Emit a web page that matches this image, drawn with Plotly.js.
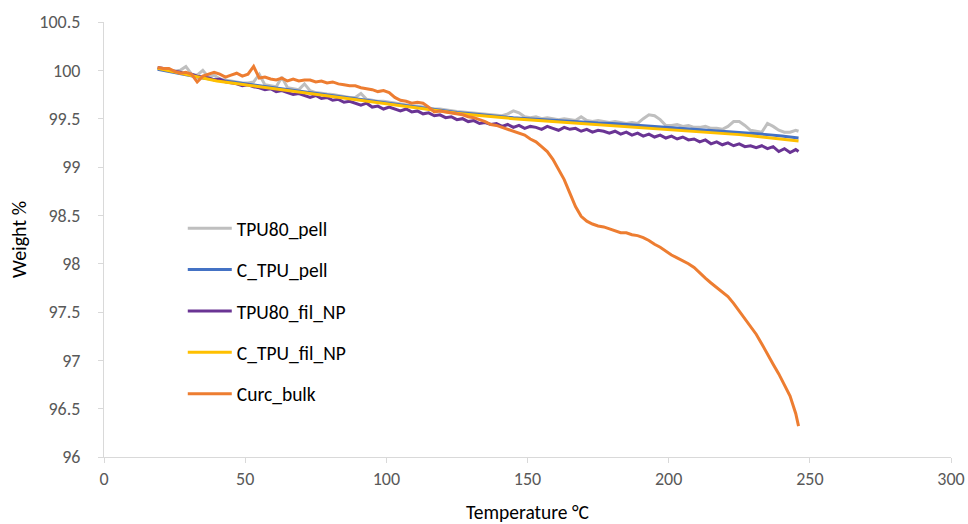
<!DOCTYPE html>
<html>
<head>
<meta charset="utf-8">
<script src="https://cdn.plot.ly/plotly-3.0.1.min.js"></script>
<style>html,body{margin:0;padding:0;background:#fff;}#chart{width:968px;height:524px;}</style>
</head>
<body>
<div id="chart"></div>
<script>
// Temperatures (°C) for the smooth series
const tempCoarse = [19, 25, 30, 35, 40, 45, 50, 55, 60, 65, 70, 75, 80, 85, 90, 95, 100, 105, 110, 115, 120, 125, 130, 135, 140, 145, 150, 155, 160, 165, 170, 175, 180, 185, 190, 195, 200, 205, 210, 215, 220, 225, 230, 235, 240, 246];
// Temperatures (°C) for the noisy series
const tempFine = [19,21,23,25,27,29,31,33,35,37,39,41,43,45,47,49,51,53,55,57,59,61,63,65,67,69,71,73,75,77,79,81,83,85,87,89,91,93,95,97,99,101,103,105,107,109,111,113,115,117,119,121,123,125,127,129,131,133,135,137,139,141,143,145,147,149,151,153,155,157,159,161,163,165,167,169,171,173,175,177,179,181,183,185,187,189,191,193,195,197,199,201,203,205,207,209,211,213,215,217,219,221,223,225,227,229,231,233,235,237,239,241,243,245,246];

const seriesNames = ["TPU80_pell", "C_TPU_pell", "TPU80_fil_NP", "C_TPU_fil_NP", "Curc_bulk"];

const tpu80Pell = [100.02,100.01,100.00,99.99,100.00,100.04,99.96,99.95,100.00,99.93,99.95,99.91,99.90,99.89,99.88,99.87,99.87,99.88,99.96,99.85,99.84,99.83,99.93,99.82,99.81,99.80,99.86,99.79,99.77,99.76,99.755,99.75,99.74,99.73,99.72,99.72,99.76,99.70,99.69,99.68,99.68,99.67,99.66,99.65,99.64,99.635,99.63,99.62,99.61,99.60,99.60,99.59,99.58,99.575,99.57,99.565,99.56,99.55,99.545,99.54,99.535,99.53,99.55,99.58,99.56,99.52,99.51,99.52,99.50,99.51,99.50,99.49,99.50,99.49,99.48,99.52,99.48,99.47,99.48,99.47,99.46,99.47,99.46,99.45,99.46,99.45,99.50,99.54,99.53,99.49,99.43,99.43,99.44,99.42,99.43,99.41,99.41,99.42,99.40,99.40,99.39,99.42,99.47,99.47,99.43,99.38,99.37,99.36,99.45,99.42,99.38,99.36,99.36,99.38,99.37];

const cTpuPell = [100.01,99.98,99.95,99.92,99.90,99.88,99.86,99.845,99.82,99.80,99.78,99.76,99.74,99.72,99.70,99.68,99.66,99.64,99.62,99.60,99.58,99.565,99.55,99.535,99.52,99.51,99.50,99.49,99.48,99.47,99.46,99.455,99.45,99.44,99.43,99.42,99.41,99.40,99.39,99.38,99.37,99.36,99.35,99.335,99.32,99.30];

const tpu80FilNP = [100.03,100.02,100.00,99.99,99.98,99.96,99.96,99.94,99.93,99.92,99.90,99.91,99.88,99.87,99.86,99.84,99.85,99.83,99.82,99.80,99.81,99.78,99.79,99.77,99.75,99.76,99.74,99.72,99.74,99.71,99.72,99.69,99.70,99.67,99.68,99.66,99.64,99.66,99.62,99.63,99.60,99.62,99.60,99.58,99.60,99.57,99.58,99.55,99.56,99.53,99.54,99.51,99.52,99.49,99.50,99.47,99.48,99.45,99.46,99.44,99.45,99.42,99.44,99.41,99.43,99.40,99.42,99.41,99.39,99.42,99.40,99.38,99.41,99.39,99.40,99.37,99.39,99.36,99.38,99.37,99.35,99.37,99.34,99.36,99.33,99.35,99.32,99.34,99.31,99.33,99.30,99.32,99.29,99.31,99.28,99.29,99.26,99.28,99.24,99.26,99.23,99.25,99.22,99.24,99.21,99.22,99.20,99.22,99.19,99.21,99.16,99.19,99.15,99.18,99.16];

const cTpuFilNP = [100.02,99.98,99.95,99.92,99.89,99.87,99.85,99.83,99.81,99.79,99.77,99.75,99.73,99.71,99.69,99.67,99.65,99.63,99.61,99.59,99.57,99.555,99.54,99.525,99.51,99.50,99.49,99.48,99.47,99.46,99.45,99.44,99.43,99.42,99.41,99.40,99.39,99.38,99.37,99.36,99.35,99.335,99.32,99.305,99.29,99.27];

const curcBulk = [100.03,100.02,100.02,99.99,99.97,99.98,99.96,99.88,99.94,99.96,99.98,99.96,99.93,99.95,99.97,99.94,99.96,100.04,99.92,99.93,99.91,99.90,99.92,99.89,99.91,99.89,99.90,99.90,99.88,99.89,99.87,99.88,99.86,99.85,99.84,99.84,99.82,99.81,99.80,99.78,99.79,99.77,99.72,99.69,99.68,99.66,99.67,99.66,99.62,99.57,99.58,99.57,99.56,99.55,99.54,99.52,99.51,99.49,99.47,99.44,99.43,99.41,99.39,99.37,99.35,99.33,99.29,99.26,99.21,99.16,99.08,98.98,98.87,98.73,98.59,98.49,98.44,98.41,98.39,98.38,98.36,98.34,98.32,98.32,98.30,98.29,98.27,98.24,98.20,98.17,98.13,98.09,98.06,98.03,98.00,97.96,97.90,97.85,97.80,97.75,97.70,97.66,97.59,97.51,97.44,97.36,97.27,97.17,97.06,96.96,96.86,96.75,96.63,96.45,96.32];

const xTickVals = [0, 50, 100, 150, 200, 250, 300];
const yTickVals = [96, 96.5, 97, 97.5, 98, 98.5, 99, 99.5, 100, 100.5];

const colors = ["#BFBFBF", "#4472C4", "#6A3494", "#FFC000", "#ED7D31"];
const xs = [tempFine, tempCoarse, tempFine, tempCoarse, tempFine];
const ys = [tpu80Pell, cTpuPell, tpu80FilNP, cTpuFilNP, curcBulk];

const traces = seriesNames.map((name, i) => ({
  type: "scatter",
  mode: "lines",
  name: name,
  legendgroup: "g" + i,
  x: xs[i],
  y: ys[i],
  line: {color: colors[i], width: 3}
}));

const fontFam = "Carlito, Calibri, 'Liberation Sans', Arial, sans-serif";

const layout = {
  width: 968,
  height: 524,
  margin: {l: 104, r: 17, t: 22, b: 67},
  paper_bgcolor: "#ffffff",
  plot_bgcolor: "#ffffff",
  font: {family: fontFam, size: 18, color: "#595959"},
  showlegend: true,
  legend: {
    x: 0.093, y: 0.57, xanchor: "left", yanchor: "top",
    font: {family: fontFam, size: 19.5, color: "#000000"},
    bgcolor: "rgba(255,255,255,0)",
    tracegroupgap: 13,
    itemwidth: 44
  },
  xaxis: {
    range: [0, 300],
    tickvals: xTickVals,
    showgrid: false,
    zeroline: false,
    showline: true,
    linecolor: "#D9D9D9",
    linewidth: 1,
    ticks: "outside",
    ticklen: 5,
    tickcolor: "#D9D9D9",
    tickfont: {family: fontFam, size: 18, color: "#595959"},
    title: {text: "Temperature °C", font: {family: fontFam, size: 19.5, color: "#000000"}, standoff: 21}
  },
  yaxis: {
    range: [96, 100.5],
    tickvals: yTickVals,
    showgrid: false,
    zeroline: false,
    showline: true,
    linecolor: "#D9D9D9",
    linewidth: 1,
    ticks: "outside",
    ticklen: 5,
    tickcolor: "#D9D9D9",
    ticklabelstandoff: 14,
    tickfont: {family: fontFam, size: 18, color: "#595959"},
    title: {text: "Weight %", font: {family: fontFam, size: 20, color: "#000000"}, standoff: 7}
  }
};

Plotly.newPlot("chart", traces, layout, {displayModeBar: false, staticPlot: true});
</script>
</body>
</html>
